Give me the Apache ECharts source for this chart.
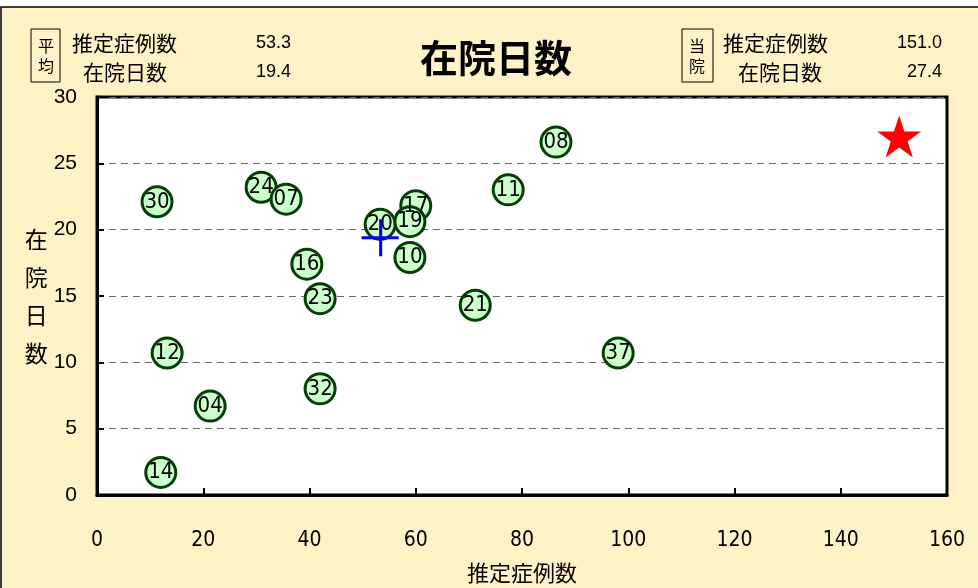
<!DOCTYPE html>
<html>
<head>
<meta charset="utf-8">
<script src="https://cdn.jsdelivr.net/npm/echarts@6/dist/echarts.min.js"></script>
<style>
  html, body { margin: 0; padding: 0; background: #fff; }
  #chart { width: 978px; height: 588px; }
</style>
</head>
<body>
<div id="chart"></div>
<script>
// 病院コード, 推定症例数, 在院日数
const codes = ['30', '24', '07', '16', '23', '32', '12', '04', '14', '21', '37', '11', '08', '20', '17', '10', '19'];
const cases = [11.3, 30.9, 35.6, 39.5, 42.0, 42.0, 13.2, 21.3, 12.0, 71.2, 98.1, 77.4, 86.4, 53.3, 60.0, 58.9, 58.9];
const days  = [22.1, 23.2, 22.3, 17.4, 14.8, 8.0, 10.7, 6.7, 1.7, 14.3, 10.7, 23.0, 26.6, 20.4, 21.8, 17.9, 20.6];

const avgCases = 53.3, avgDays = 19.4;
const ownCases = 151.0, ownDays = 27.4;

const xTicks = [0, 20, 40, 60, 80, 100, 120, 140, 160];
const yTicks = [0, 5, 10, 15, 20, 25, 30];

const chart = echarts.init(document.getElementById('chart'));

const jp = '"Noto Sans CJK JP", sans-serif';
const narrow = '"DejaVu Sans Condensed", "Liberation Sans Narrow", "Liberation Sans", sans-serif';
const sans = '"Liberation Sans", sans-serif';

const starPath = 'path://M50,0 L61.8,36.2 L100,36.2 L69.1,58.6 L80.9,95 L50,72.6 L19.1,95 L30.9,58.6 L0,36.2 L38.2,36.2 Z';
const crossPath = 'path://M0,17 L36,17 L36,20 L0,20 Z M17,0 L20,0 L20,37 L17,37 Z';

function headerText(x, y, text, align, font, size, lh) {
  return {
    type: 'text', x: x, y: y,
    style: { text: text, fill: '#000', font: size + 'px ' + font, align: align, verticalAlign: 'middle',
      lineHeight: lh || size }
  };
}

const option = {
  backgroundColor: '#fff',
  animation: false,
  graphic: [
    { type: 'rect', z: -10, shape: { x: 1, y: 7, width: 990, height: 600 },
      style: { fill: '#FFF2C6', stroke: '#000', lineWidth: 1.5 } },
    { type: 'rect', shape: { x: 31, y: 29, width: 29, height: 53 }, style: { fill: 'none', stroke: '#000', lineWidth: 1 } },
    headerText(46, 56, '平\n均', 'center', jp, 16, 20),
    headerText(72, 43, '推定症例数', 'left', jp, 21),
    headerText(83, 72, '在院日数', 'left', jp, 21),
    headerText(291, 43, avgCases.toFixed(1), 'right', sans, 18),
    headerText(291, 72, avgDays.toFixed(1), 'right', sans, 18),
    { type: 'rect', shape: { x: 682, y: 29, width: 31, height: 53 }, style: { fill: 'none', stroke: '#000', lineWidth: 1 } },
    headerText(697, 56, '当\n院', 'center', jp, 16, 20),
    headerText(723, 43, '推定症例数', 'left', jp, 21),
    headerText(738, 72, '在院日数', 'left', jp, 21),
    headerText(942, 43, ownCases.toFixed(1), 'right', sans, 18),
    headerText(942, 72, ownDays.toFixed(1), 'right', sans, 18)
  ],
  title: {
    text: '在院日数',
    left: 491, top: 34, textAlign: 'center',
    textStyle: { fontFamily: jp, fontSize: 38, fontWeight: 'bold', color: '#000' }
  },
  grid: {
    left: 97, right: 31, top: 97, bottom: 93,
    outerBoundsMode: 'none', containLabel: false,
    show: true, backgroundColor: '#fff', borderColor: '#000', borderWidth: 3
  },
  xAxis: {
    type: 'value', min: 0, max: 160, interval: 20,
    name: '推定症例数', nameLocation: 'middle', nameGap: 67,
    nameTextStyle: { fontFamily: jp, fontSize: 22, color: '#000' },
    axisLine: { show: true, lineStyle: { color: '#000', width: 3 } },
    axisTick: { show: true, inside: true, length: 7, lineStyle: { color: '#000', width: 2 } },
    axisLabel: { margin: 35, fontFamily: narrow, fontSize: 21, color: '#000',
      formatter: v => xTicks.includes(v) ? String(v) : '' },
    splitLine: { show: false }
  },
  yAxis: {
    type: 'value', min: 0, max: 30, interval: 5,
    name: '在\n院\n日\n数', nameLocation: 'middle', nameGap: 48, nameRotate: 0,
    nameTextStyle: { fontFamily: jp, fontSize: 23, color: '#000', lineHeight: 38 },
    axisLine: { show: true, lineStyle: { color: '#000', width: 3 } },
    axisTick: { show: true, inside: true, length: 7, lineStyle: { color: '#000', width: 2 } },
    axisLabel: { margin: 20, fontFamily: sans, fontSize: 21, color: '#000',
      formatter: v => yTicks.includes(v) ? String(v) : '' },
    splitLine: { show: true, lineStyle: { color: '#666', type: [7, 5], width: 1 } }
  },
  series: [
    {
      type: 'scatter',
      data: codes.map((c, i) => ({ name: c, value: [cases[i], days[i]] })),
      symbol: 'circle', symbolSize: 30,
      itemStyle: { color: '#CCFFCC', borderColor: '#063F06', borderWidth: 3, opacity: 1 },
      label: { show: true, position: 'inside', formatter: p => p.name,
        fontFamily: narrow, fontSize: 22, color: '#000' },
      z: 3
    },
    {
      type: 'scatter',
      data: [[avgCases, avgDays]],
      symbol: crossPath, symbolSize: [37, 37],
      itemStyle: { color: '#0000FF', opacity: 1 },
      z: 4
    },
    {
      type: 'scatter',
      data: [[ownCases, ownDays]],
      symbol: starPath, symbolSize: [44, 42], symbolOffset: [0, 5],
      itemStyle: { color: '#FF0000', opacity: 1 },
      z: 4
    }
  ]
};

chart.setOption(option);
</script>
</body>
</html>
